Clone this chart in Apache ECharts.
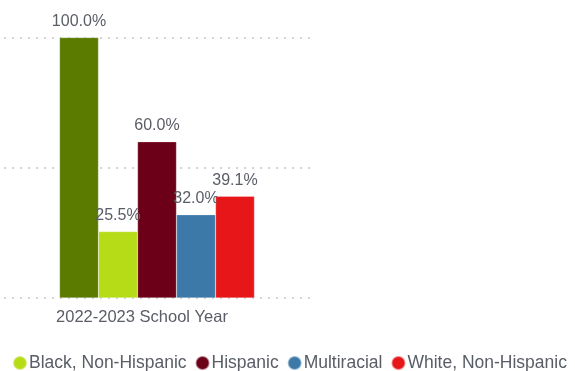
<!DOCTYPE html>
<html>
<head>
<meta charset="utf-8">
<script src="https://cdn.jsdelivr.net/npm/echarts@6/dist/echarts.min.js"></script>
<style>
  html, body { margin: 0; padding: 0; background: #fff; }
  #chart { width: 575px; height: 371px; }
</style>
</head>
<body>
<div id="chart"></div>
<script>
// School year shown on the category axis
const categories = ['2022-2023 School Year'];

// Student groups, their percentages and colours
const seriesNames = ['All Students', 'Black, Non-Hispanic', 'Hispanic', 'Multiracial', 'White, Non-Hispanic'];
const seriesValues = [[100.0], [25.5], [60.0], [32.0], [39.1]];
const seriesColors = ['#5a7b00', '#b6dc17', '#6c0018', '#3d79a8', '#e71619'];
const legendNames = ['Black, Non-Hispanic', 'Hispanic', 'Multiracial', 'White, Non-Hispanic'];

const chart = echarts.init(document.getElementById('chart'));
const font = '"Liberation Sans", Arial, sans-serif';
const textColor = '#595d66';

chart.setOption({
  animation: false,
  textStyle: { fontFamily: font },
  grid: { left: 0, right: 261, top: 37.5, bottom: 73 },
  legend: {
    data: legendNames,
    orient: 'horizontal',
    left: 7,
    top: 349,
    width: 800,
    padding: 5,
    icon: 'circle',
    itemWidth: 14,
    itemHeight: 14,
    itemGap: 8,
    textStyle: { fontSize: 17.5, color: textColor, fontFamily: font, padding: [0, 0, 0, -3] }
  },
  xAxis: {
    type: 'category',
    data: categories,
    axisLine: { show: false },
    axisTick: { show: false },
    axisLabel: { fontSize: 16.5, color: textColor, margin: 11, padding: [0, 30, 0, 0] }
  },
  yAxis: {
    type: 'value',
    min: 0,
    max: 100,
    interval: 50,
    axisLabel: { show: false },
    axisLine: { show: false },
    axisTick: { show: false },
    splitLine: { lineStyle: { color: '#c4c4c4', type: [2, 6], dashOffset: -4, width: 1.5 } }
  },
  series: seriesNames.map((name, i) => ({
    name: name,
    type: 'bar',
    data: seriesValues[i],
    barWidth: 39,
    barGap: '0%',
    itemStyle: { color: seriesColors[i], borderColor: 'rgba(255,255,255,0.5)', borderWidth: 0.5 },
    label: {
      show: true,
      position: 'top',
      distance: 8,
      fontSize: 16,
      color: textColor,
      formatter: p => p.value.toFixed(1) + '%'
    }
  }))
});
</script>
</body>
</html>
